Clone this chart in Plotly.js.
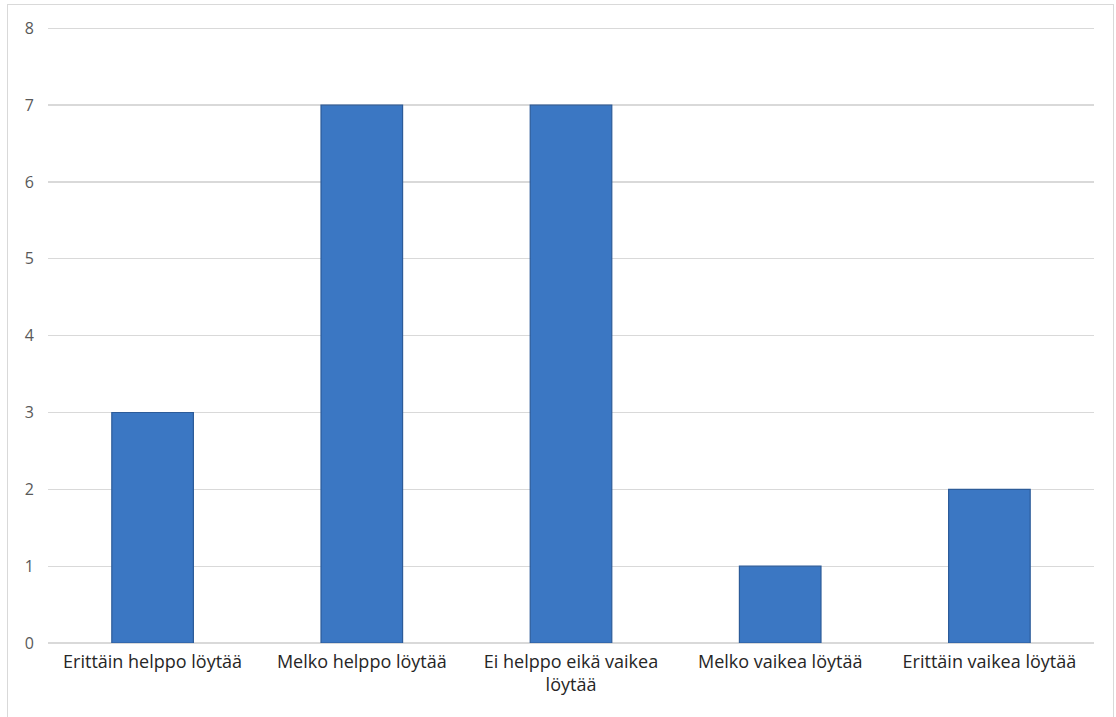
<!DOCTYPE html>
<html><head><meta charset="utf-8">
<script src="https://cdn.plot.ly/plotly-3.0.1.min.js"></script>
<style>
html,body{margin:0;padding:0;background:#fff;}
#frame{position:absolute;left:7px;top:4px;width:1107px;height:730px;border:1.5px solid #d9d9d9;box-sizing:border-box;}
#chart{position:absolute;left:0;top:0;width:1116px;height:717px;}
</style></head>
<body>
<div id="frame"></div>
<div id="chart"></div>
<script>
const categories = ["Erittäin helppo löytää","Melko helppo löytää","Ei helppo eikä vaikea<br>löytää","Melko vaikea löytää","Erittäin vaikea löytää"];
const values = [3,7,7,1,2];
const yTicks = [0,1,2,3,4,5,6,7,8];

Plotly.newPlot('chart',[{
  type:'bar', x:categories, y:values, width:0.39,
  marker:{color:'#3b77c3', line:{color:'#2c5b99', width:1.2}},
  hoverinfo:'skip'
}],{
  width:1116, height:717,
  margin:{l:48,r:22,t:26,b:74},
  paper_bgcolor:'rgba(0,0,0,0)', plot_bgcolor:'rgba(0,0,0,0)',
  showlegend:false,
  font:{family:'Open Sans, Noto Sans, sans-serif', color:'#595959'},
  xaxis:{tickfont:{size:18,color:'#262626'}, showgrid:false, zeroline:false, showline:false, ticks:'', ticklabelstandoff:6, fixedrange:true},
  yaxis:{range:[0,8.03], tickvals:yTicks, ticktext:yTicks.map(String), tickfont:{size:16,color:'#595959'}, showgrid:true, gridcolor:'#d9d9d9', gridwidth:1.3, zeroline:true, zerolinecolor:'#d9d9d9', zerolinewidth:1.3, showline:false, ticks:'', ticklabelstandoff:13, fixedrange:true}
},{displayModeBar:false, staticPlot:true});
</script>
</body></html>
